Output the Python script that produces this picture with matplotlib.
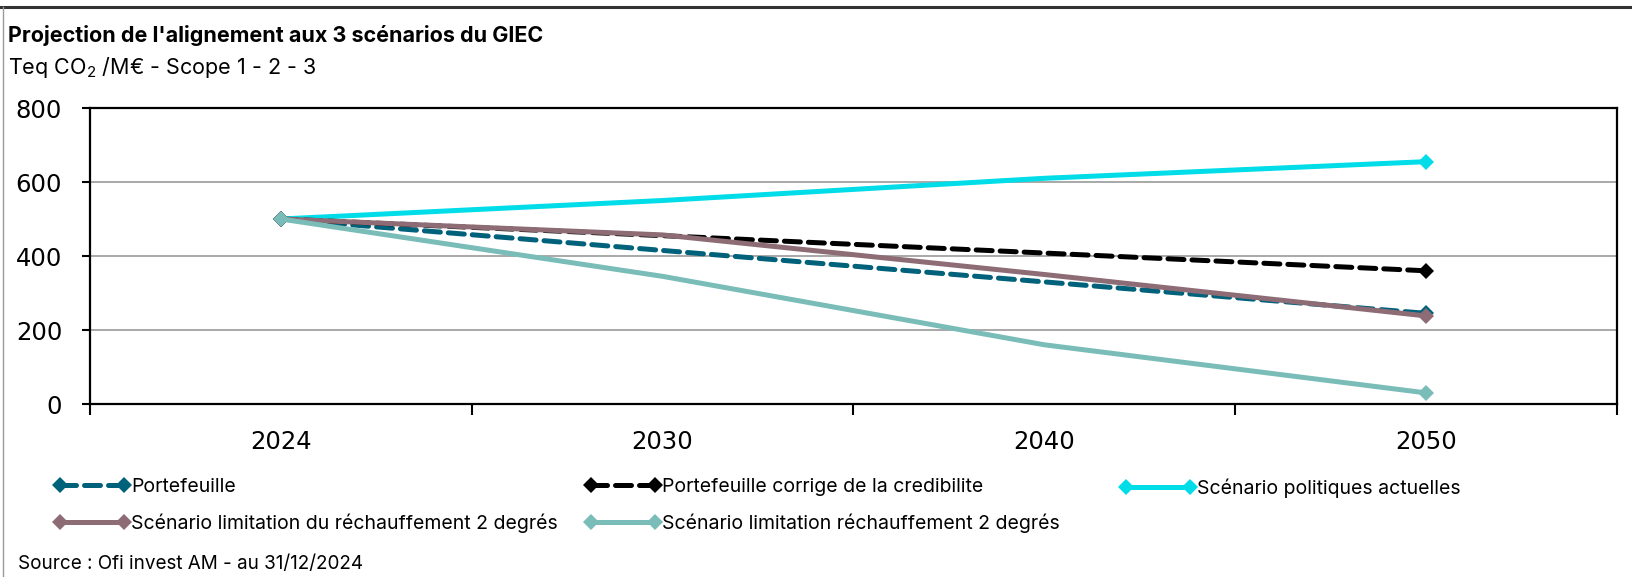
import matplotlib
matplotlib.use("Agg")
import matplotlib.pyplot as plt
from matplotlib.lines import Line2D

plt.rcParams['font.family'] = ['Inter', 'DejaVu Sans']
plt.rcParams['mathtext.fontset'] = 'custom'
plt.rcParams['mathtext.rm'] = 'Inter'

# Données
annees = ["2024", "2030", "2040", "2050"]
portefeuille = [500, 415, 330, 245]
portefeuille_corrige = [500, 455, 408, 360]
politiques_actuelles = [500, 550, 610, 655]
rechauffement_2d_du = [500, 457, 350, 238]
rechauffement_2d = [500, 345, 160, 30]

series = [
    ("Portefeuille", portefeuille, "#00617B", (0, (3.2, 1.6))),
    ("Portefeuille corrige de la credibilite", portefeuille_corrige, "#000000", (0, (3.2, 1.6))),
    ("Scénario politiques actuelles", politiques_actuelles, "#00DCE8", "-"),
    ("Scénario limitation du réchauffement 2 degrés", rechauffement_2d_du, "#8E6C75", "-"),
    ("Scénario limitation réchauffement 2 degrés", rechauffement_2d, "#7ABDB8", "-"),
]

W, H = 1633, 577
fig = plt.figure(figsize=(W / 100, H / 100), dpi=100)
ax = fig.add_axes([90 / W, 1 - 404 / H, (1617 - 90) / W, (404 - 108) / H])

x = list(range(len(annees)))
lignes = {}
# ordre de dessin : le dernier en haut
for nom, vals, couleur, style in [series[2], series[0], series[1], series[3], series[4]]:
    (l,) = ax.plot(x, vals, color=couleur, linestyle=style, linewidth=3.6,
                   marker="D", markersize=8.5, markevery=[0, len(vals) - 1],
                   markeredgewidth=0, dash_capstyle="round", solid_capstyle="butt",
                   label=nom, zorder=3)
    lignes[nom] = l

ax.set_xlim(-0.5, len(annees) - 0.5)
ax.set_ylim(0, 800)
ax.set_yticks([0, 200, 400, 600, 800])
ax.set_xticks(x)
ax.set_xticklabels(annees)
ax.set_xticks([i - 0.5 for i in range(len(annees) + 1)], minor=True)
ax.tick_params(axis="x", which="major", length=0, pad=18.5, labelsize=17.5)
ax.tick_params(axis="x", which="minor", length=8, width=1.5, direction="out")
ax.tick_params(axis="y", length=6, width=1.5, direction="out", pad=14, labelsize=17.5)
for lab in ax.get_xticklabels() + ax.get_yticklabels():
    lab.set_family("DejaVu Sans")
ax.grid(axis="y", color="#9a9a9a", linewidth=1.2, zorder=0)
ax.set_axisbelow(True)
for s in ax.spines.values():
    s.set_linewidth(1.6)
    s.set_color("black")

# titres
fig.text(8 / W, 1 - 35 / H, "Projection de l'alignement aux 3 scénarios du GIEC",
         fontsize=15.5, fontweight="bold", va="center", ha="left")
fig.text(8 / W, 1 - 67 / H, "Teq CO$_2$ /M€ - Scope 1 - 2 - 3",
         fontsize=15.5, va="center", ha="left")
fig.text(18 / W, 1 - 564 / H, "Source : Ofi invest AM - au 31/12/2024",
         fontsize=13.6, va="center", ha="left")

# légende en trois colonnes placées à la main
colonnes = [
    (54, ["Portefeuille", "Scénario limitation du réchauffement 2 degrés"]),
    (585, ["Portefeuille corrige de la credibilite", "Scénario limitation réchauffement 2 degrés"]),
    (1120, ["Scénario politiques actuelles"]),
]
for x0, noms in colonnes:
    leg = fig.legend([lignes[n] for n in noms], noms, loc="upper left",
                     bbox_to_anchor=(x0 / W, 1 - 478 / H), frameon=False,
                     numpoints=2, handlelength=3.9, handletextpad=0.05,
                     borderpad=0, borderaxespad=0, labelspacing=0.9,
                     fontsize=14)

# cadre de la figure
fig.add_artist(Line2D([0, 1], [1 - 7 / H, 1 - 7 / H], color="#333333", linewidth=2.2))
fig.add_artist(Line2D([3 / W, 3 / W], [0, 1 - 7 / H], color="#9a9a9a", linewidth=1))

fig.savefig("out.png", dpi=100)
